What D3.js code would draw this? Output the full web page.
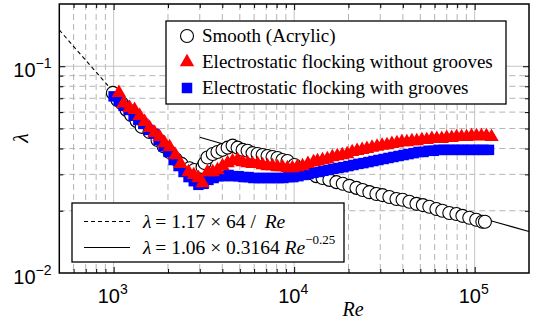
<!DOCTYPE html>
<html>
<head>
<meta charset="utf-8">
<script src="https://cdn.jsdelivr.net/npm/d3@7"></script>
<style>
  body { margin: 0; background: #fff; }
  svg { display: block; }
</style>
</head>
<body>
<div id="chart"></div>
<script>
// [Re, lambda]
const smoothData = [
  [990, 0.0743], [1050, 0.0687], [1110, 0.0662], [1180, 0.0615], [1250, 0.0581],
  [1340, 0.0544], [1430, 0.0509], [1580, 0.0481], [1750, 0.044], [1890, 0.041],
  [2040, 0.0385], [2210, 0.0355], [2380, 0.0337], [2630, 0.0321], [2800, 0.0315],
  [3110, 0.0325], [3190, 0.034], [3310, 0.0362], [3540, 0.0376], [3760, 0.0385],
  [4010, 0.0394], [4280, 0.0404], [4560, 0.0413], [4860, 0.0404], [5180, 0.0394],
  [5520, 0.039], [5880, 0.038], [6270, 0.0376], [6690, 0.0372], [7120, 0.0368],
  [7590, 0.0364], [8090, 0.036], [8610, 0.0352], [9180, 0.0348], [10040, 0.0333],
  [11130, 0.0319], [12160, 0.0305], [13260, 0.0294], [14360, 0.0288], [15670, 0.0282],
  [17150, 0.0275], [18590, 0.027], [20230, 0.0264], [22130, 0.0258], [23930, 0.0252],
  [26110, 0.0246], [28540, 0.0241], [30850, 0.0238], [33680, 0.0233], [36870, 0.0228],
  [39860, 0.0226], [43470, 0.0221], [47590, 0.0216], [51640, 0.0213], [56080, 0.0209],
  [61370, 0.0204], [66160, 0.02], [72350, 0.0195], [79200, 0.0193], [85500, 0.0189],
  [93350, 0.0185], [102000, 0.0181], [110300, 0.0177], [114000, 0.0177]
];

const flockData = [
  [1070, 0.0743], [1135, 0.0662], [1226, 0.063], [1306, 0.0615], [1393, 0.0576],
  [1485, 0.0538], [1582, 0.0503], [1687, 0.0476], [1797, 0.0455], [1915, 0.0425],
  [2042, 0.0406], [2200, 0.0372], [2350, 0.0337], [2600, 0.0308], [2780, 0.0298],
  [2950, 0.0288], [3110, 0.0272], [3310, 0.0308], [3540, 0.0308], [3760, 0.0315],
  [4010, 0.0329], [4280, 0.034], [4560, 0.0348], [4860, 0.0352], [5180, 0.0344],
  [5520, 0.034], [5880, 0.0337], [6270, 0.0337], [6690, 0.0333], [7120, 0.0329],
  [7590, 0.0329], [8090, 0.0325], [8610, 0.0325], [9180, 0.0322], [9780, 0.0322],
  [10400, 0.0325], [11130, 0.0329], [11920, 0.0337], [12810, 0.0344], [13460, 0.0348],
  [14360, 0.0352], [15280, 0.0356], [16280, 0.0364], [17340, 0.0368], [18470, 0.0372],
  [19670, 0.0376], [20960, 0.0385], [22330, 0.039], [23800, 0.0394], [25300, 0.0399],
  [27000, 0.0404], [28800, 0.0409], [30700, 0.0413], [32700, 0.0416], [34800, 0.0421],
  [37100, 0.0425], [39500, 0.043], [42100, 0.043], [44900, 0.0435], [47800, 0.0435],
  [51000, 0.044], [54300, 0.044], [57900, 0.0445], [61700, 0.0445], [65700, 0.0445],
  [70000, 0.045], [74600, 0.045], [79400, 0.0455], [84600, 0.0455], [90200, 0.0455],
  [96100, 0.046], [102400, 0.046], [109000, 0.046], [116200, 0.046], [124000, 0.0455]
];

const grooveData = [
  [1000, 0.0715], [1066, 0.0681], [1135, 0.0643], [1210, 0.0615], [1290, 0.0576],
  [1370, 0.055], [1460, 0.0526], [1560, 0.0492], [1665, 0.0472], [1775, 0.044],
  [1890, 0.041], [2015, 0.0385], [2150, 0.0352], [2290, 0.0329], [2440, 0.0308],
  [2600, 0.0291], [2780, 0.0278], [2950, 0.0267], [3150, 0.027], [3350, 0.0282],
  [3580, 0.0288], [3810, 0.0294], [4060, 0.0294], [4330, 0.0298], [4610, 0.0294],
  [4920, 0.0294], [5240, 0.0291], [5590, 0.0291], [5950, 0.0288], [6350, 0.0288],
  [6760, 0.0288], [7210, 0.0288], [7690, 0.0288], [8190, 0.0288], [8720, 0.0288],
  [9300, 0.0291], [9900, 0.0291], [10560, 0.0294], [11250, 0.0298], [12000, 0.0301],
  [12780, 0.0305], [13630, 0.0308], [14530, 0.0312], [15480, 0.0315], [16500, 0.0319],
  [17590, 0.0322], [18760, 0.0325], [20000, 0.0329], [21300, 0.0333], [22700, 0.0337],
  [24200, 0.034], [25800, 0.0344], [27500, 0.0348], [29300, 0.0352], [31300, 0.0356],
  [33300, 0.036], [35500, 0.0364], [37900, 0.0368], [40400, 0.0372], [43000, 0.0376],
  [45900, 0.038], [48900, 0.0385], [52100, 0.0385], [55600, 0.039], [59300, 0.039],
  [63200, 0.0394], [67400, 0.0394], [71800, 0.0394], [76600, 0.0394], [81600, 0.0394],
  [87000, 0.0394], [92700, 0.0394], [98900, 0.0394], [105000, 0.0394], [112000, 0.0394],
  [120000, 0.0394]
];

const laminarRange = [500, 1000];
const blasiusRange = [3000, 200000];

const xMajor = [1e3, 1e4, 1e5];
const xMajorExp = ["3", "4", "5"];
const yMajor = [1e-2, 1e-1];
const yMajorExp = ["\u22122", "\u22121"];

const seriesNames = [
  "Smooth (Acrylic)",
  "Electrostatic flocking without grooves",
  "Electrostatic flocking with grooves",
];

const SERIF = "'Liberation Serif', 'Times New Roman', serif";
const SANS = "'Liberation Sans', Arial, sans-serif";

const W = 533, H = 321;
const margin = { top: 4, right: 4, bottom: 48, left: 59.3 };
const width = W - margin.left - margin.right;
const height = H - margin.top - margin.bottom;

const svg = d3.select("#chart").append("svg")
  .attr("width", W).attr("height", H);

const g = svg.append("g")
  .attr("transform", `translate(${margin.left},${margin.top})`);

const x = d3.scaleLog().domain([500, 2e5]).range([0, width]);
const y = d3.scaleLog().domain([0.01, 0.2]).range([height, 0]);

// minor values between decades
const xMinor = [];
[100, 1000, 10000, 100000].forEach((d) => {
  for (let k = 2; k <= 9; k++) {
    const v = d * k;
    if (v > 500 && v < 2e5) xMinor.push(v);
  }
});
const yMinor = [];
[0.01, 0.1].forEach((d) => {
  for (let k = 2; k <= 9; k++) {
    const v = +(d * k).toFixed(3);
    if (v > 0.01 && v < 0.2) yMinor.push(v);
  }
});

// grid
const grid = g.append("g").attr("class", "grid");
grid.selectAll(".gxm").data(xMinor).enter().append("line")
  .attr("x1", (d) => x(d)).attr("x2", (d) => x(d))
  .attr("y1", 0).attr("y2", height)
  .attr("stroke", "#b4b4b4").attr("stroke-width", 1)
  .attr("stroke-dasharray", "6,4");
grid.selectAll(".gym").data(yMinor).enter().append("line")
  .attr("x1", 0).attr("x2", width)
  .attr("y1", (d) => y(d)).attr("y2", (d) => y(d))
  .attr("stroke", "#b4b4b4").attr("stroke-width", 1)
  .attr("stroke-dasharray", "6,4");
grid.selectAll(".gxM").data(xMajor).enter().append("line")
  .attr("x1", (d) => x(d)).attr("x2", (d) => x(d))
  .attr("y1", 0).attr("y2", height)
  .attr("stroke", "#c4c4c4").attr("stroke-width", 1);
grid.selectAll(".gyM").data([0.1]).enter().append("line")
  .attr("x1", 0).attr("x2", width)
  .attr("y1", (d) => y(d)).attr("y2", (d) => y(d))
  .attr("stroke", "#c4c4c4").attr("stroke-width", 1);

// fit lines
const laminar = laminarRange.map((re) => [re, 1.17 * 64 / re]);
const blasius = d3.range(0, 21).map((i) => {
  const re = blasiusRange[0] * Math.pow(blasiusRange[1] / blasiusRange[0], i / 20);
  return [re, 1.06 * 0.3164 * Math.pow(re, -0.25)];
});
const line = d3.line().x((d) => x(d[0])).y((d) => y(d[1]));

g.append("path").datum(laminar)
  .attr("fill", "none").attr("stroke", "#000").attr("stroke-width", 1.1)
  .attr("stroke-dasharray", "4,3").attr("d", line);
g.append("path").datum(blasius)
  .attr("fill", "none").attr("stroke", "#000").attr("stroke-width", 1.1)
  .attr("d", line);

// markers
const tri = d3.symbol().type(d3.symbolTriangle).size(90);
const sq = d3.symbol().type(d3.symbolSquare).size(110);

g.append("g").selectAll("circle").data(smoothData).enter().append("circle")
  .attr("cx", (d) => x(d[0])).attr("cy", (d) => y(d[1])).attr("r", 6.5)
  .attr("fill", "#fff").attr("stroke", "#000").attr("stroke-width", 1.1);

g.append("g").selectAll("path").data(grooveData).enter().append("path")
  .attr("d", sq)
  .attr("transform", (d) => `translate(${x(d[0])},${y(d[1])})`)
  .attr("fill", "#0000ff");

g.append("g").selectAll("path").data(flockData).enter().append("path")
  .attr("d", tri)
  .attr("transform", (d) => `translate(${x(d[0])},${y(d[1])})`)
  .attr("fill", "#ff0000");

// axes box with inward ticks
function axisTicks(axisFn, scale, vals, size, transform) {
  g.append("g").attr("transform", transform)
    .call(axisFn(scale).tickValues(vals).tickSize(size).tickFormat(""))
    .call((s) => s.select(".domain").remove())
    .selectAll("line").attr("stroke", "#000");
}
axisTicks(d3.axisBottom, x, xMinor, -4, `translate(0,${height})`);
axisTicks(d3.axisBottom, x, xMajor, -6, `translate(0,${height})`);
axisTicks(d3.axisTop, x, xMinor, -4, "translate(0,0)");
axisTicks(d3.axisTop, x, xMajor, -6, "translate(0,0)");
axisTicks(d3.axisLeft, y, yMinor, -4, "translate(0,0)");
axisTicks(d3.axisLeft, y, [0.1], -6, "translate(0,0)");
axisTicks(d3.axisRight, y, yMinor, -4, `translate(${width},0)`);
axisTicks(d3.axisRight, y, [0.1], -6, `translate(${width},0)`);

g.append("rect").attr("width", width).attr("height", height)
  .attr("fill", "none").attr("stroke", "#000").attr("stroke-width", 1.5);

// tick labels (10^n)
const xl = g.append("g").attr("font-family", SANS);
xMajor.forEach((v, i) => {
  const t = xl.append("text").attr("x", x(v) - 16).attr("y", height + 30)
    .attr("font-size", 20).attr("fill", "#000");
  t.append("tspan").text("10");
  t.append("tspan").attr("dy", -9).attr("font-size", 14).text(xMajorExp[i]);
});
yMajor.forEach((v, i) => {
  const t = xl.append("text").attr("x", -46).attr("y", y(v) + 11)
    .attr("font-size", 20).attr("fill", "#000");
  t.append("tspan").text("10");
  t.append("tspan").attr("dy", -9).attr("font-size", 14).text(yMajorExp[i]);
});

// axis titles
g.append("text").attr("x", 353 - margin.left).attr("y", height + 43)
  .attr("text-anchor", "middle")
  .attr("font-family", SERIF)
  .attr("font-style", "italic").attr("font-size", 20).text("Re");
g.append("text")
  .attr("transform", `translate(${-31},${y(0.045)}) rotate(-90)`)
  .attr("text-anchor", "middle")
  .attr("font-family", SERIF)
  .attr("font-style", "italic").attr("font-size", 22).text("\u03bb");

// legend 1
const lg = g.append("g").attr("transform", `translate(${166 - margin.left},${21 - margin.top})`)
  .attr("font-family", SERIF);
lg.append("rect").attr("width", 340).attr("height", 83)
  .attr("fill", "#fff").attr("stroke", "#000").attr("stroke-width", 1.3);
const rowsY = [15, 41, 67];
lg.append("circle").attr("cx", 21).attr("cy", rowsY[0]).attr("r", 6.5)
  .attr("fill", "#fff").attr("stroke", "#000").attr("stroke-width", 1.1);
lg.append("path").attr("d", tri).attr("transform", `translate(21,${rowsY[1]})`).attr("fill", "#ff0000");
lg.append("path").attr("d", sq).attr("transform", `translate(21,${rowsY[2]})`).attr("fill", "#0000ff");
seriesNames.forEach((n, i) => {
  lg.append("text").attr("x", 36).attr("y", rowsY[i] + 6)
    .attr("font-size", 19).text(n);
});

// legend 2
const lg2 = g.append("g").attr("transform", `translate(${72 - margin.left},${203 - margin.top})`)
  .attr("font-family", SERIF);
lg2.append("rect").attr("width", 272).attr("height", 59)
  .attr("fill", "#fff").attr("stroke", "#000").attr("stroke-width", 1.3);
lg2.append("line").attr("x1", 12).attr("x2", 58).attr("y1", 18.5).attr("y2", 18.5)
  .attr("stroke", "#000").attr("stroke-width", 1.1).attr("stroke-dasharray", "4,3");
lg2.append("line").attr("x1", 12).attr("x2", 58).attr("y1", 44.5).attr("y2", 44.5)
  .attr("stroke", "#000").attr("stroke-width", 1.1);
const f1 = lg2.append("text").attr("x", 71).attr("y", 25).attr("font-size", 19.5);
f1.append("tspan").attr("font-style", "italic").text("\u03bb");
f1.append("tspan").text("\u2009= 1.17 \u00d7 64 /  ");
f1.append("tspan").attr("font-style", "italic").text("\u2009Re");
const f2 = lg2.append("text").attr("x", 71).attr("y", 51).attr("font-size", 19.5);
f2.append("tspan").attr("font-style", "italic").text("\u03bb");
f2.append("tspan").text("\u2009= 1.06 \u00d7 0.3164 ");
f2.append("tspan").attr("font-style", "italic").text("Re");
f2.append("tspan").attr("dy", -10).attr("font-size", 13).text("\u22120.25");
</script>
</body>
</html>
